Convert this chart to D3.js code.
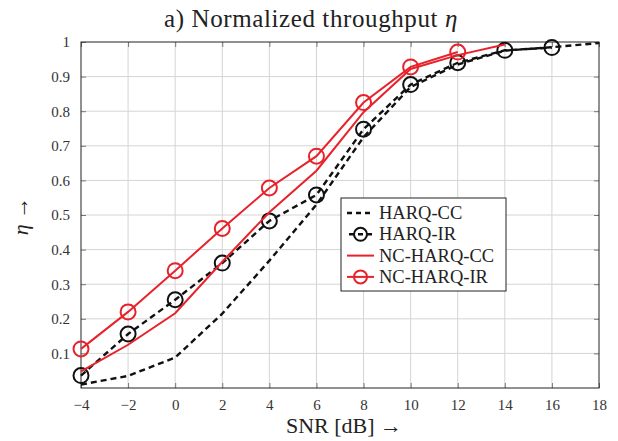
<!DOCTYPE html>
<html>
<head>
<meta charset="utf-8">
<script src="https://cdn.jsdelivr.net/npm/d3@7"></script>
<style>
  body { margin: 0; background: #fff; }
  text { font-family: "Liberation Serif", "DejaVu Serif", serif; }
</style>
</head>
<body>
<div id="chart"></div>
<script>
// data
const snr = [-4, -2, 0, 2, 4, 6, 8, 10, 12, 14, 16, 18];
const harqCC = [0.01, 0.035, 0.088, 0.215, 0.368, 0.53, 0.725, 0.87, 0.935, 0.975, 0.985, 0.997];
const harqIR = [0.036, 0.156, 0.255, 0.361, 0.483, 0.558, 0.748, 0.877, 0.94, 0.976, 0.984];
const ncHarqCC = [0.048, 0.125, 0.216, 0.365, 0.508, 0.628, 0.797, 0.922, 0.962, 0.993];
const ncHarqIR = [0.113, 0.22, 0.339, 0.461, 0.578, 0.67, 0.825, 0.928, 0.971];
const xTicks = [-4, -2, 0, 2, 4, 6, 8, 10, 12, 14, 16, 18];
const yTicks = [0.1, 0.2, 0.3, 0.4, 0.5, 0.6, 0.7, 0.8, 0.9, 1];

const series = [
  { name: "HARQ-CC", values: harqCC, color: "#111", dash: "6,4", marker: false },
  { name: "HARQ-IR", values: harqIR, color: "#111", dash: "6,4", marker: true },
  { name: "NC-HARQ-CC", values: ncHarqCC, color: "#e8222a", dash: null, marker: false },
  { name: "NC-HARQ-IR", values: ncHarqIR, color: "#e8222a", dash: null, marker: true },
];

const width = 618, height = 441;
const margin = { top: 42, right: 19, bottom: 53, left: 81 };

const svg = d3.select("#chart").append("svg")
  .attr("width", width)
  .attr("height", height);

const x = d3.scaleLinear().domain([-4, 18]).range([margin.left, width - margin.right]);
const y = d3.scaleLinear().domain([0, 1]).range([height - margin.bottom, margin.top]);

// grid
const grid = svg.append("g").attr("stroke", "#d4d4d4").attr("stroke-width", 1);
grid.selectAll(".gx").data(xTicks.slice(1, -1)).join("line")
  .attr("x1", d => x(d)).attr("x2", d => x(d))
  .attr("y1", y(0)).attr("y2", y(1));
grid.selectAll(".gy").data(yTicks.slice(0, -1)).join("line")
  .attr("x1", x(-4)).attr("x2", x(18))
  .attr("y1", d => y(d)).attr("y2", d => y(d));

// axes with inward ticks
const axB = svg.append("g").attr("transform", `translate(0,${y(0)})`)
  .call(d3.axisBottom(x).tickValues(xTicks).tickSizeInner(-5).tickSizeOuter(0)
    .tickPadding(11).tickFormat(d => d < 0 ? "\u2212" + Math.abs(d) : d));
const axL = svg.append("g").attr("transform", `translate(${x(-4)},0)`)
  .call(d3.axisLeft(y).tickValues(yTicks).tickSizeInner(-5).tickSizeOuter(0)
    .tickPadding(11).tickFormat(d => d === 1 ? "1" : d3.format(".1f")(d)));
const axT = svg.append("g").attr("transform", `translate(0,${y(1)})`)
  .call(d3.axisTop(x).tickValues(xTicks).tickSizeInner(-5).tickSizeOuter(0).tickFormat(""));
const axR = svg.append("g").attr("transform", `translate(${x(18)},0)`)
  .call(d3.axisRight(y).tickValues(yTicks).tickSizeInner(-5).tickSizeOuter(0).tickFormat(""));
[axB, axL, axT, axR].forEach(g => {
  g.select(".domain").remove();
  g.selectAll(".tick line").attr("stroke", "#777");
  g.selectAll("text").attr("font-size", 15).attr("fill", "#333")
    .style("font-family", "'Liberation Serif', serif");
});

// frame
svg.append("rect")
  .attr("x", x(-4)).attr("y", y(1))
  .attr("width", x(18) - x(-4)).attr("height", y(0) - y(1))
  .attr("fill", "none").attr("stroke", "#222").attr("stroke-width", 1);

// series
const line = d3.line().x(d => x(d[0])).y(d => y(d[1]));
const plot = svg.append("g");
series.forEach(s => {
  const pts = s.values.map((v, i) => [snr[i], v]);
  plot.append("path")
    .datum(pts)
    .attr("d", line)
    .attr("fill", "none")
    .attr("stroke", s.color)
    .attr("stroke-width", s.dash ? 2.4 : 2)
    .attr("stroke-dasharray", s.dash);
  if (s.marker) {
    plot.selectAll(null).data(pts).join("circle")
      .attr("cx", d => x(d[0])).attr("cy", d => y(d[1]))
      .attr("r", 7.5)
      .attr("fill", "none")
      .attr("stroke", s.color)
      .attr("stroke-width", 2);
  }
});

// legend
const lg = svg.append("g").attr("transform", "translate(341,198)");
lg.append("rect").attr("width", 165).attr("height", 93)
  .attr("fill", "#fff").attr("stroke", "#222").attr("stroke-width", 1);
series.forEach((s, i) => {
  const yy = 15 + i * 21.3;
  lg.append("line")
    .attr("x1", 6).attr("x2", 33).attr("y1", yy).attr("y2", yy)
    .attr("stroke", s.color).attr("stroke-width", s.dash ? 2.4 : 2)
    .attr("stroke-dasharray", s.dash ? "5,4" : null)
    .attr("stroke-dashoffset", s.dash ? (s.marker ? -2 : 0) : null);
  if (s.marker) {
    lg.append("circle").attr("cx", 19.5).attr("cy", yy).attr("r", 6.5)
      .attr("fill", "none").attr("stroke", s.color).attr("stroke-width", 2);
  }
  lg.append("text").attr("x", 38).attr("y", yy + 6)
    .attr("font-size", 18.5).attr("fill", "#222").text(s.name);
});

// title and axis labels
const title = svg.append("text")
  .attr("x", 311).attr("y", 27).attr("text-anchor", "middle")
  .attr("font-size", 25).attr("letter-spacing", 0.6).attr("fill", "#222");
title.append("tspan").text("a) Normalized throughput ");
title.append("tspan").attr("font-style", "italic").text("\u03b7");

svg.append("text")
  .attr("x", 344).attr("y", 433).attr("text-anchor", "middle")
  .attr("font-size", 22).attr("fill", "#222")
  .text("SNR [dB] \u2192");

const yl = svg.append("text")
  .attr("transform", "translate(28,216) rotate(-90)")
  .attr("text-anchor", "middle")
  .attr("font-size", 22).attr("fill", "#222");
yl.append("tspan").attr("font-style", "italic").text("\u03b7");
yl.append("tspan").text(" \u2192");
</script>
</body>
</html>
